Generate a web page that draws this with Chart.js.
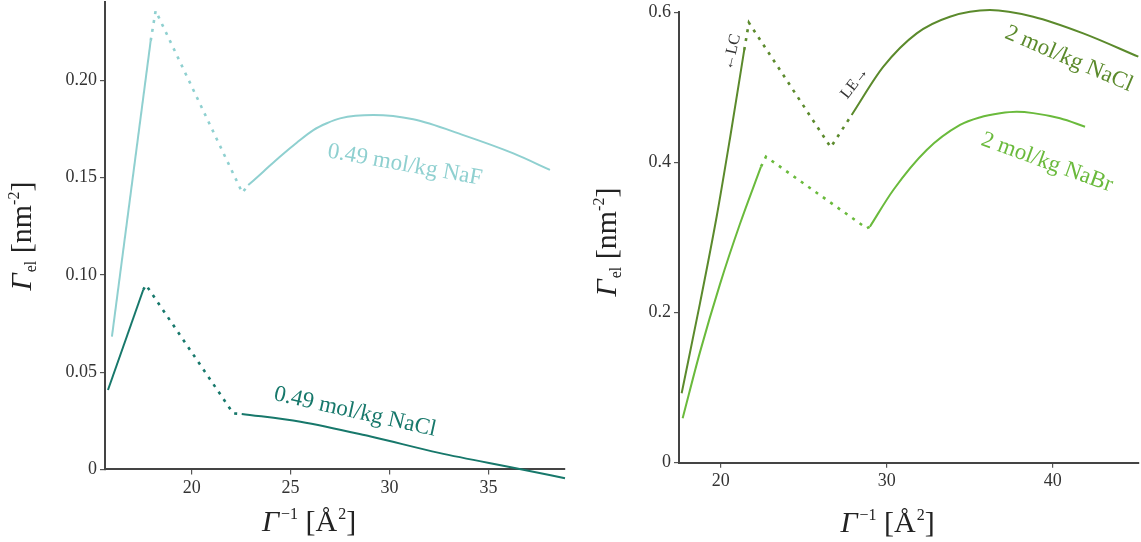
<!DOCTYPE html>
<html><head><meta charset="utf-8">
<script src="https://cdn.jsdelivr.net/npm/chart.js@4.4.0/dist/chart.umd.min.js"></script>
<style>
html,body{margin:0;padding:0;background:#fff;width:1141px;height:542px;overflow:hidden}
#wl{position:absolute;left:0;top:0;width:580px;height:542px}
#wr{position:absolute;left:580px;top:0;width:561px;height:542px}
</style></head><body>
<div id="wl"><canvas id="cl" width="580" height="542"></canvas></div>
<div id="wr"><canvas id="cr" width="561" height="542"></canvas></div>
<script>
// ---------- Left panel: 0.49 mol/kg ----------
const leftXTicks = [20, 25, 30, 35];
const leftYTicks = [0, 0.05, 0.10, 0.15, 0.20];
const leftYTickLabels = ['0', '0.05', '0.10', '0.15', '0.20'];

const nafLowX  = [15.97, 17.93];
const nafLowY  = [0.0682, 0.2203];
const nafDashX = [17.93, 18.18, 22.56, 22.86];
const nafDashY = [0.2203, 0.2357, 0.1422, 0.1461];
const nafHighX = [22.86, 23.62, 24.46, 25.31, 26.15, 26.83, 27.5, 29.18, 31.2, 33.73, 36.26, 38.11];
const nafHighY = [0.1461, 0.153, 0.1607, 0.1679, 0.1744, 0.1779, 0.1804, 0.1821, 0.1799, 0.1718, 0.1624, 0.1539];

const naclLowX  = [15.77, 17.55];
const naclLowY  = [0.0408, 0.0922];
const naclDashX = [17.55, 17.69, 22.1, 22.53];
const naclDashY = [0.0922, 0.0948, 0.0288, 0.0285];
const naclHighX = [22.53, 25.5, 29.0, 32.5, 36.7, 38.87];
const naclHighY = [0.0285, 0.0245, 0.017, 0.0085, 0.0, -0.0046];

// ---------- Right panel: 2 mol/kg ----------
const rightXTicks = [20, 30, 40];
const rightYTicks = [0, 0.2, 0.4, 0.6];
const rightYTickLabels = ['0', '0.2', '0.4', '0.6'];

const nacl2LowX  = [17.65, 18.75, 19.76, 20.56, 21.42];
const nacl2LowY  = [0.0925, 0.212, 0.328, 0.432, 0.55];
const nacl2DashX = [21.42, 21.7, 26.63, 27.89];
const nacl2DashY = [0.55, 0.5863, 0.4203, 0.4633];
const nacl2HighX = [27.89, 29.8, 31.81, 33.81, 36.22, 38.83, 41.84, 45.16];
const nacl2HighY = [0.4633, 0.5277, 0.5721, 0.5943, 0.6032, 0.5943, 0.5721, 0.541];

const nabrLowX  = [17.71, 18.75, 19.96, 21.16, 22.43];
const nabrLowY  = [0.0592, 0.147, 0.238, 0.318, 0.3944];
const nabrDashX = [22.43, 22.73, 28.8, 28.99];
const nabrDashY = [0.3944, 0.4077, 0.3123, 0.3145];
const nabrHighX = [28.99, 30.4, 32.41, 34.42, 35.6, 36.83, 37.83, 38.83, 40.44, 41.95];
const nabrHighY = [0.3145, 0.3634, 0.4167, 0.45, 0.460, 0.4655, 0.4675, 0.4658, 0.4589, 0.4477];

// ---------- styling ----------
const C_NAF = '#8fd0d0', C_NACL = '#17786b', C_NACL2 = '#5b8a2c', C_NABR = '#6aba3c';
const SERIF = '"Liberation Serif", "Times New Roman", serif';

function pts(xs, ys) { return xs.map((x, i) => ({ x: x, y: ys[i] })); }
function ds(xs, ys, color, dashed, curved) {
  return {
    data: pts(xs, ys), borderColor: color, backgroundColor: color,
    borderWidth: dashed ? 2.6 : 2, borderDash: dashed ? [3, 6] : [],
    pointRadius: 0, showLine: true, fill: false, clip: false,
    tension: 0, cubicInterpolationMode: curved ? 'monotone' : 'default'
  };
}

function drawRich(ctx, t) {
  ctx.save();
  ctx.translate(t.x, t.y);
  ctx.rotate(t.angle * Math.PI / 180);
  ctx.fillStyle = t.color;
  ctx.textBaseline = 'alphabetic';
  ctx.textAlign = 'left';
  let w = 0;
  t.parts.forEach(p => { ctx.font = p.font; w += ctx.measureText(p.text).width + (p.gap || 0); });
  let cx = -w / 2;
  t.parts.forEach(p => {
    ctx.font = p.font;
    ctx.fillText(p.text, cx, p.dy || 0);
    cx += ctx.measureText(p.text).width + (p.gap || 0);
  });
  ctx.restore();
}

const textPlugin = {
  id: 'txt',
  afterDraw(chart, args, opts) {
    const ctx = chart.ctx, xs = chart.scales.x, ys = chart.scales.y;
    (opts.labels || []).forEach(l => {
      ctx.save();
      ctx.translate(xs.getPixelForValue(l.x), ys.getPixelForValue(l.y));
      ctx.rotate(l.angle * Math.PI / 180);
      ctx.font = l.font; ctx.fillStyle = l.color;
      ctx.textAlign = 'center'; ctx.textBaseline = 'middle';
      ctx.fillText(l.text, 0, 0);
      ctx.restore();
    });
    (opts.titles || []).forEach(t => drawRich(ctx, t));
  }
};

const big = 'italic 30px ' + SERIF, reg = '30px ' + SERIF, sm = '16px ' + SERIF;
function yTitle(x, y) {
  return { x: x, y: y, angle: -90, color: '#222', parts: [
    { text: 'Γ', font: big, gap: 1 },
    { text: 'el', font: sm, dy: 5 },
    { text: ' [nm', font: reg },
    { text: '-2', font: sm, dy: -12 },
    { text: ']', font: reg }
  ]};
}
function xTitle(x, y) {
  return { x: x, y: y, angle: 0, color: '#222', parts: [
    { text: 'Γ', font: big, gap: 2 },
    { text: '−1', font: sm, dy: -12 },
    { text: ' [Å', font: reg, gap: 1 },
    { text: '2', font: sm, dy: -12 },
    { text: ']', font: reg }
  ]};
}

function axisOpts(min, max, ticks, labels, fitKey, fitVal) {
  return {
    type: 'linear', min: min, max: max,
    afterBuildTicks: s => { s.ticks = ticks.map(v => ({ value: v })); },
    afterFit: s => {
      s[fitKey] = fitVal;
      s.paddingTop = 0; s.paddingBottom = 0; s.paddingLeft = 0; s.paddingRight = 0;
    },
    grid: { display: true, drawOnChartArea: false, drawTicks: true, tickLength: 5, color: '#555', lineWidth: 1.2 },
    border: { display: true, color: '#444', width: 2 },
    ticks: {
      font: { family: SERIF, size: 18 }, color: '#333', padding: 3,
      maxRotation: 0, autoSkip: false,
      callback: (v, i) => labels ? labels[i] : String(v)
    }
  };
}

Chart.defaults.animation = false;

new Chart(document.getElementById('cl'), {
  type: 'scatter',
  data: { datasets: [
    ds(nafLowX, nafLowY, C_NAF, false, false),
    ds(nafDashX, nafDashY, C_NAF, true, false),
    ds(nafHighX, nafHighY, C_NAF, false, true),
    ds(naclLowX, naclLowY, C_NACL, false, false),
    ds(naclDashX, naclDashY, C_NACL, true, false),
    ds(naclHighX, naclHighY, C_NACL, false, true)
  ]},
  options: {
    responsive: false, animation: false, devicePixelRatio: 1,
    layout: { padding: { top: 2.4, right: 15, bottom: 0, left: 0 } },
    plugins: {
      legend: { display: false }, tooltip: { enabled: false },
      txt: {
        labels: [
          { text: '0.49 mol/kg NaF', x: 30.78, y: 0.1564, angle: 10.2, font: '23px ' + SERIF, color: C_NAF },
          { text: '0.49 mol/kg NaCl', x: 28.26, y: 0.0295, angle: 12.6, font: '23px ' + SERIF, color: C_NACL }
        ],
        titles: [ yTitle(31, 236), xTitle(309, 531) ]
      }
    },
    scales: {
      x: axisOpts(15.62, 38.87, leftXTicks, null, 'height', 72.6),
      y: axisOpts(0, 0.24, leftYTicks, leftYTickLabels, 'width', 105)
    }
  },
  plugins: [textPlugin]
});

new Chart(document.getElementById('cr'), {
  type: 'scatter',
  data: { datasets: [
    ds(nacl2LowX, nacl2LowY, C_NACL2, false, true),
    ds(nacl2DashX, nacl2DashY, C_NACL2, true, false),
    ds(nacl2HighX, nacl2HighY, C_NACL2, false, true),
    ds(nabrLowX, nabrLowY, C_NABR, false, true),
    ds(nabrDashX, nabrDashY, C_NABR, true, false),
    ds(nabrHighX, nabrHighY, C_NABR, false, true)
  ]},
  options: {
    responsive: false, animation: false, devicePixelRatio: 1,
    layout: { padding: { top: 12.4, right: 2, bottom: 0, left: 0 } },
    plugins: {
      legend: { display: false }, tooltip: { enabled: false },
      txt: {
        labels: [
          { text: '2 mol/kg NaCl', x: 40.98, y: 0.538, angle: 23.2, font: '23px ' + SERIF, color: C_NACL2 },
          { text: '2 mol/kg NaBr', x: 39.66, y: 0.40, angle: 19.9, font: '23px ' + SERIF, color: C_NABR },
          { text: '←LC', x: 20.68, y: 0.547, angle: -77, font: '16px ' + SERIF, color: '#333' },
          { text: 'LE→', x: 28.09, y: 0.506, angle: -52, font: '16px ' + SERIF, color: '#333' }
        ],
        titles: [ yTitle(36, 242), xTitle(307.5, 532) ]
      }
    },
    scales: {
      x: axisOpts(17.49, 45.2, rightXTicks, null, 'height', 79.3),
      y: axisOpts(0, 0.6, rightYTicks, rightYTickLabels, 'width', 99)
    }
  },
  plugins: [textPlugin]
});
</script>
</body></html>
